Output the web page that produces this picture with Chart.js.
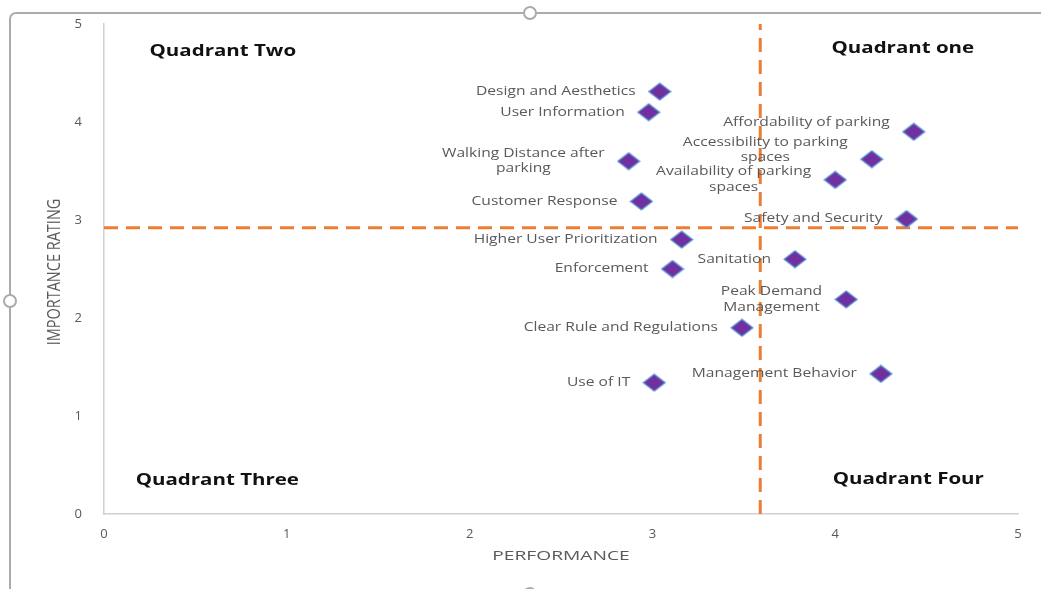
<!DOCTYPE html>
<html>
<head>
<meta charset="utf-8">
<script src="https://cdn.jsdelivr.net/npm/chart.js@4.4.1/dist/chart.umd.min.js"></script>
<style>
  html, body { margin: 0; padding: 0; background: #ffffff; }
  #wrap { width: 1041px; height: 589px; position: relative; }
</style>
</head>
<body>
<div id="wrap"><canvas id="c" width="1041" height="589"></canvas></div>
<script>
// Attributes rated by performance (x) and importance (y)
const attributes = [
  'Design and Aesthetics', 'User Information', 'Affordability of parking',
  'Accessibility to parking\nspaces', 'Walking Distance after\nparking',
  'Availability of parking\nspaces', 'Customer Response', 'Safety and Security',
  'Higher User Prioritization', 'Sanitation', 'Enforcement',
  'Peak Demand\nManagement', 'Clear Rule and Regulations',
  'Management Behavior', 'Use of IT'
];
const performance = [3.04, 2.98, 4.43, 4.20, 2.87, 4.00, 2.94, 4.39, 3.16, 3.78, 3.11, 4.06, 3.49, 4.25, 3.01];
const importance  = [4.31, 4.10, 3.90, 3.62, 3.60, 3.41, 3.19, 3.01, 2.80, 2.60, 2.50, 2.19, 1.90, 1.43, 1.34];

// Quadrant dividers (mean performance / mean importance)
const meanPerformance = 3.59;
const meanImportance = 2.92;

// Axis range and ticks
const axisMin = 0;
const axisMax = 5;
const tickStep = 1;
const xTitle = 'PERFORMANCE';
const yTitle = 'IMPORTANCE RATING';

// Quadrant captions, placed in data units
const quadrantNames = ['Quadrant Two', 'Quadrant one', 'Quadrant Three', 'Quadrant Four'];
const quadrantX = [0.65, 4.37, 0.62, 4.40];
const quadrantY = [4.72, 4.75, 0.34, 0.35];

// Labels that sit a little higher than their marker
const labelLift = { 'Affordability of parking': 9, 'Accessibility to parking\nspaces': 9 };

const FONT = '"Open Sans", "Liberation Sans", sans-serif';
const WIDE = 1.3; // horizontal stretch of the chart text

// Diamond marker: purple with a thin light-blue rim
function makeDiamond(w, h) {
  const cv = document.createElement('canvas');
  cv.width = w + 2; cv.height = h + 2;
  const g = cv.getContext('2d');
  const cx = cv.width / 2, cy = cv.height / 2;
  g.beginPath();
  g.moveTo(cx, cy - h / 2);
  g.lineTo(cx + w / 2, cy);
  g.lineTo(cx, cy + h / 2);
  g.lineTo(cx - w / 2, cy);
  g.closePath();
  g.fillStyle = '#7030A0';
  g.fill();
  g.lineWidth = 1.2;
  g.strokeStyle = '#5B9BD5';
  g.stroke();
  return cv;
}
const diamond = makeDiamond(22, 17);

const points = performance.map((x, i) => ({ x, y: importance[i] }));

// Draw text widened horizontally; align is 'left' | 'center' | 'right'
function wideText(ctx, text, x, y, align, k) {
  const w = ctx.measureText(text).width * k;
  let left = x;
  if (align === 'center') left = x - w / 2;
  else if (align === 'right') left = x - w;
  ctx.save();
  ctx.translate(left, y);
  ctx.scale(k, 1);
  ctx.textAlign = 'left';
  ctx.fillText(text, 0, 0);
  ctx.restore();
}

// Point labels drawn left of each marker
const pointLabels = {
  id: 'pointLabels',
  afterDatasetsDraw(chart) {
    const { ctx } = chart;
    const meta = chart.getDatasetMeta(2);
    ctx.save();
    ctx.font = '12px ' + FONT;
    ctx.fillStyle = '#595959';
    ctx.textBaseline = 'middle';
    meta.data.forEach((el, i) => {
      const name = attributes[i];
      const lines = name.split('\n');
      const lift = labelLift[name] || 0;
      const right = el.x - 24;
      const lh = 15.5;
      const cy = el.y - lift;
      if (lines.length === 1) {
        wideText(ctx, lines[0], right, cy, 'right', WIDE);
      } else {
        const wmax = Math.max(...lines.map(l => ctx.measureText(l).width)) * WIDE;
        const cx = right - wmax / 2;
        lines.forEach((l, k) => {
          wideText(ctx, l, cx, cy + (k - (lines.length - 1) / 2) * lh, 'center', WIDE);
        });
      }
    });
    ctx.restore();
  }
};

// Quadrant captions and axis titles
const captions = {
  id: 'captions',
  afterDatasetsDraw(chart) {
    const { ctx, scales, chartArea } = chart;
    ctx.save();
    ctx.textBaseline = 'middle';
    ctx.font = 'bold 16px ' + FONT;
    ctx.fillStyle = '#111111';
    quadrantNames.forEach((t, i) => {
      wideText(ctx, t, scales.x.getPixelForValue(quadrantX[i]), scales.y.getPixelForValue(quadrantY[i]), 'center', 1.28);
    });

    ctx.fillStyle = '#595959';
    ctx.font = '12px ' + FONT;
    wideText(ctx, xTitle, (chartArea.left + chartArea.right) / 2, 557, 'center', 1.6);

    ctx.font = '14.5px ' + FONT;
    ctx.translate(55, (chartArea.top + chartArea.bottom) / 2 + 3);
    ctx.rotate(-Math.PI / 2);
    ctx.scale(1, 1.2);
    ctx.textAlign = 'center';
    ctx.fillText(yTitle, 0, 0);
    ctx.restore();
  }
};

// Selection frame around the chart object
const chartFrame = {
  id: 'chartFrame',
  afterDraw(chart) {
    const { ctx } = chart;
    ctx.save();
    ctx.strokeStyle = '#ABABAB';
    ctx.lineWidth = 2;
    ctx.beginPath();
    ctx.moveTo(16, 13); ctx.lineTo(1041, 13);
    ctx.moveTo(10, 19); ctx.lineTo(10, 589);
    ctx.stroke();
    ctx.beginPath();
    ctx.arc(16, 19, 6, Math.PI, 1.5 * Math.PI);
    ctx.stroke();
    const handle = (x, y) => {
      ctx.beginPath();
      ctx.arc(x, y, 6, 0, 2 * Math.PI);
      ctx.fillStyle = '#ffffff';
      ctx.fill();
      ctx.stroke();
    };
    handle(530, 13);
    handle(10, 301);
    handle(530, 594);
    ctx.restore();
  }
};

new Chart(document.getElementById('c'), {
  type: 'scatter',
  data: {
    datasets: [
      {
        label: 'mean performance',
        data: [{ x: meanPerformance, y: axisMin }, { x: meanPerformance, y: axisMax }],
        showLine: true,
        borderColor: '#ED7D31',
        borderWidth: 3,
        borderDash: [14, 8],
        pointRadius: 0,
        order: 2
      },
      {
        label: 'mean importance',
        data: [{ x: axisMin, y: meanImportance }, { x: axisMax, y: meanImportance }],
        showLine: true,
        borderColor: '#ED7D31',
        borderWidth: 3,
        borderDash: [14, 8],
        pointRadius: 0,
        order: 3
      },
      {
        label: 'attributes',
        data: points,
        pointStyle: diamond,
        pointRadius: 11,
        order: 1
      }
    ]
  },
  options: {
    responsive: false,
    animation: false,
    layout: { autoPadding: false, padding: { top: 24, right: 23, left: 0, bottom: 0 } },
    plugins: {
      legend: { display: false },
      tooltip: { enabled: false }
    },
    scales: {
      x: {
        type: 'linear',
        min: axisMin, max: axisMax,
        ticks: { stepSize: tickStep, color: '#595959', font: { family: FONT, size: 13 }, padding: 12 },
        grid: { display: false, drawTicks: false },
        border: { color: '#D0D0D0', width: 1.5 },
        title: { display: false },
        afterFit(s) { s.height = 75; s.paddingLeft = 0; s.paddingRight = 0; }
      },
      y: {
        type: 'linear',
        min: axisMin, max: axisMax,
        ticks: { stepSize: tickStep, color: '#595959', font: { family: FONT, size: 13 }, padding: 22 },
        grid: { display: false, drawTicks: false },
        border: { color: '#D0D0D0', width: 1.5 },
        title: { display: false },
        afterFit(s) { s.width = 104; s.paddingTop = 0; s.paddingBottom = 0; }
      }
    }
  },
  plugins: [pointLabels, captions, chartFrame]
});
</script>
</body>
</html>
